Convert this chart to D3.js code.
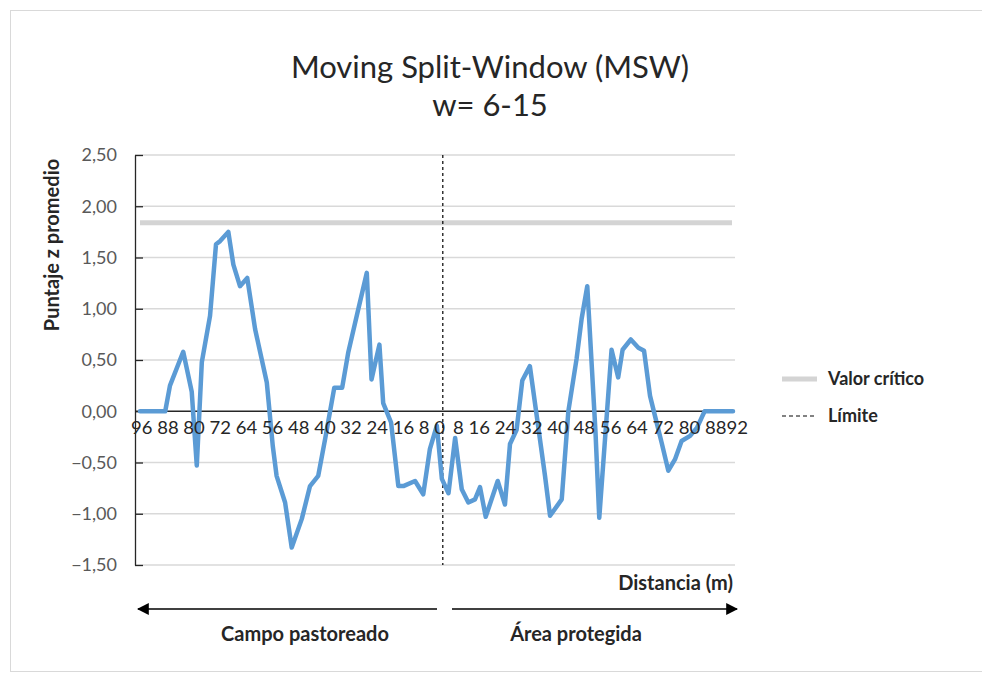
<!DOCTYPE html>
<html><head><meta charset="utf-8">
<script src="https://cdn.jsdelivr.net/npm/d3@7"></script>
<style>body{margin:0;background:#fff}svg{display:block}</style>
</head><body><svg id="c" width="982" height="675"></svg>
<script>
// Signed distance along the transect (negative = grazed field, positive = protected area)
const positions = [-96,-88,-86.5,-82.3,-79.6,-78.0,-76.4,-73.8,-71.9,-70.6,-68.0,-66.4,-64.3,-62.0,-59.5,-55.8,-53.9,-52.7,-50.0,-47.9,-44.7,-42.1,-39.5,-37.3,-34.4,-31.9,-30.0,-27.3,-24.1,-22.6,-20.1,-18.9,-16.4,-14.1,-12.5,-8.8,-6.2,-4.1,-1.9,-0.3,1.8,3.9,6.0,8.1,10.2,11.8,13.6,17.4,19.7,21.3,23.4,25.2,27.6,31.1,32.4,34.0,37.7,39.8,42.4,44.0,45.8,48.4,49.6,53.5,55.6,57.0,59.6,62.0,63.8,65.7,67.3,69.4,71.5,73.6,75.7,78.4,80.6,83.0,92];
const zScores = [0,0,0.25,0.58,0.19,-0.53,0.48,0.93,1.63,1.66,1.75,1.43,1.22,1.30,0.80,0.28,-0.34,-0.63,-0.89,-1.33,-1.05,-0.73,-0.63,-0.27,0.23,0.23,0.57,0.93,1.35,0.31,0.65,0.08,-0.11,-0.73,-0.73,-0.68,-0.81,-0.37,-0.14,-0.66,-0.80,-0.26,-0.76,-0.89,-0.86,-0.74,-1.03,-0.68,-0.91,-0.32,-0.18,0.30,0.44,-0.34,-0.63,-1.02,-0.86,0.0,0.51,0.90,1.22,-0.2,-1.04,0.60,0.33,0.60,0.70,0.62,0.59,0.15,-0.05,-0.31,-0.58,-0.47,-0.29,-0.24,-0.16,0,0];
const criticalValue = [1.84];
const limitPosition = [0];
const yTicks = [-1.5,-1,-0.5,0,0.5,1,1.5,2,2.5];
const leftLabels = ["96","88","80","72","64","56","48","40","32","24","16","8","0"];
const rightLabels = ["8","16","24","32","40","48","56","64","72","80","88","92"];
const legendItems = ["Valor crítico","Límite"];
const zoneLabels = ["Campo pastoreado","Área protegida"];

const svg = d3.select("#c");
const font = "Lato, 'Open Sans', sans-serif";
svg.append("rect").attr("x",10.5).attr("y",10.5).attr("width",990).attr("height",661)
  .attr("fill","#fff").attr("stroke","#d9d9d9");

const x = d3.scaleLinear().domain([-96,92]).range([140,733]);
const y = d3.scaleLinear().domain([-1.5,2.5]).range([565,155]);
const plotL = 135, plotR = 735;

// title
svg.append("text").attr("x",490).attr("y",78).attr("text-anchor","middle")
  .attr("font-family",font).attr("font-size",31).attr("fill","#262626").text("Moving Split-Window (MSW)");
svg.append("text").attr("x",490).attr("y",116).attr("text-anchor","middle")
  .attr("font-family",font).attr("font-size",31).attr("fill","#262626").text("w= 6-15");

// gridlines
svg.append("g").selectAll("line").data(yTicks.filter(d=>d!==0)).join("line")
  .attr("x1",plotL).attr("x2",plotR).attr("y1",d=>y(d)).attr("y2",d=>y(d))
  .attr("stroke","#d9d9d9").attr("stroke-width",1.5);

// critical value line
svg.append("g").selectAll("line").data(criticalValue).join("line")
  .attr("x1",140).attr("x2",732).attr("y1",d=>y(d)).attr("y2",d=>y(d))
  .attr("stroke","#d4d4d4").attr("stroke-width",5);

// y axis
const yAxis = d3.axisLeft(y).tickValues(yTicks).tickSizeInner(-8).tickSizeOuter(0).tickPadding(18)
  .tickFormat(d=>d3.format(".2f")(d).replace(".",","));
const ga = svg.append("g").attr("transform",`translate(${plotL},0)`).call(yAxis);
ga.select(".domain").attr("stroke","#262626").attr("stroke-width",1.3);
ga.selectAll(".tick line").attr("stroke","#262626").attr("stroke-width",1.3);
ga.selectAll(".tick text").attr("font-family",font).attr("font-size",18).attr("fill","#595959");

// zero line
svg.append("line").attr("x1",plotL).attr("x2",plotR).attr("y1",y(0)).attr("y2",y(0))
  .attr("stroke","#262626").attr("stroke-width",1.5);

// limit dashed line
svg.append("g").selectAll("line").data(limitPosition).join("line")
  .attr("x1",d=>x(d)).attr("x2",d=>x(d)).attr("y1",y(2.5)).attr("y2",y(-1.5))
  .attr("stroke","#000").attr("stroke-width",1.2).attr("stroke-dasharray","3,3");

// series
const data = positions.map((p,i)=>({p, v:zScores[i]}));
svg.append("path").datum(data)
  .attr("d",d3.line().x(d=>x(d.p)).y(d=>y(d.v)))
  .attr("fill","none").attr("stroke","#5b9bd5").attr("stroke-width",4.5)
  .attr("stroke-linejoin","round").attr("stroke-linecap","round");

// x labels
svg.append("text").attr("x",131).attr("y",434).attr("font-family",font).attr("font-size",18)
  .attr("fill","#262626").attr("textLength",314).attr("lengthAdjust","spacingAndGlyphs")
  .text(leftLabels.join(" "));
svg.append("text").attr("x",453).attr("y",434).attr("font-family",font).attr("font-size",18)
  .attr("fill","#262626").attr("textLength",295).attr("lengthAdjust","spacingAndGlyphs")
  .text(rightLabels.slice(0,-1).join(" ") + rightLabels[rightLabels.length-1]);

// y title
svg.append("text").attr("transform","translate(59,245) rotate(-90)").attr("text-anchor","middle")
  .attr("font-family",font).attr("font-size",20).attr("font-weight",700).attr("fill","#262626")
  .text("Puntaje z promedio");

// x title
svg.append("text").attr("x",733).attr("y",590).attr("text-anchor","end")
  .attr("font-family",font).attr("font-size",20).attr("font-weight",700).attr("fill","#262626")
  .text("Distancia (m)");

// arrows
const defs = svg.append("defs");
defs.append("marker").attr("id","ah").attr("viewBox","0 0 10 10").attr("refX",9).attr("refY",5)
  .attr("markerWidth",12).attr("markerHeight",12).attr("markerUnits","userSpaceOnUse").attr("orient","auto")
  .append("path").attr("d","M0,0L10,5L0,10Z").attr("fill","#000");
svg.append("line").attr("x1",437).attr("x2",138).attr("y1",609).attr("y2",609)
  .attr("stroke","#000").attr("stroke-width",1.5).attr("marker-end","url(#ah)");
svg.append("line").attr("x1",452).attr("x2",737).attr("y1",609).attr("y2",609)
  .attr("stroke","#000").attr("stroke-width",1.5).attr("marker-end","url(#ah)");
svg.append("text").attr("x",305).attr("y",641).attr("text-anchor","middle")
  .attr("font-family",font).attr("font-size",20).attr("font-weight",700).attr("fill","#262626").text(zoneLabels[0]);
svg.append("text").attr("x",576).attr("y",641).attr("text-anchor","middle")
  .attr("font-family",font).attr("font-size",20).attr("font-weight",700).attr("fill","#262626").text(zoneLabels[1]);

// legend
const lg = svg.append("g");
lg.append("line").attr("x1",782).attr("x2",817).attr("y1",379).attr("y2",379).attr("stroke","#d4d4d4").attr("stroke-width",5);
lg.append("line").attr("x1",782).attr("x2",817).attr("y1",416).attr("y2",416).attr("stroke","#595959").attr("stroke-width",1.3).attr("stroke-dasharray","4,3");
lg.selectAll("text").data(legendItems).join("text")
  .attr("x",828).attr("y",(d,i)=>385+i*37)
  .attr("font-family",font).attr("font-size",18).attr("font-weight",700).attr("fill","#262626").text(d=>d);
</script></body></html>
